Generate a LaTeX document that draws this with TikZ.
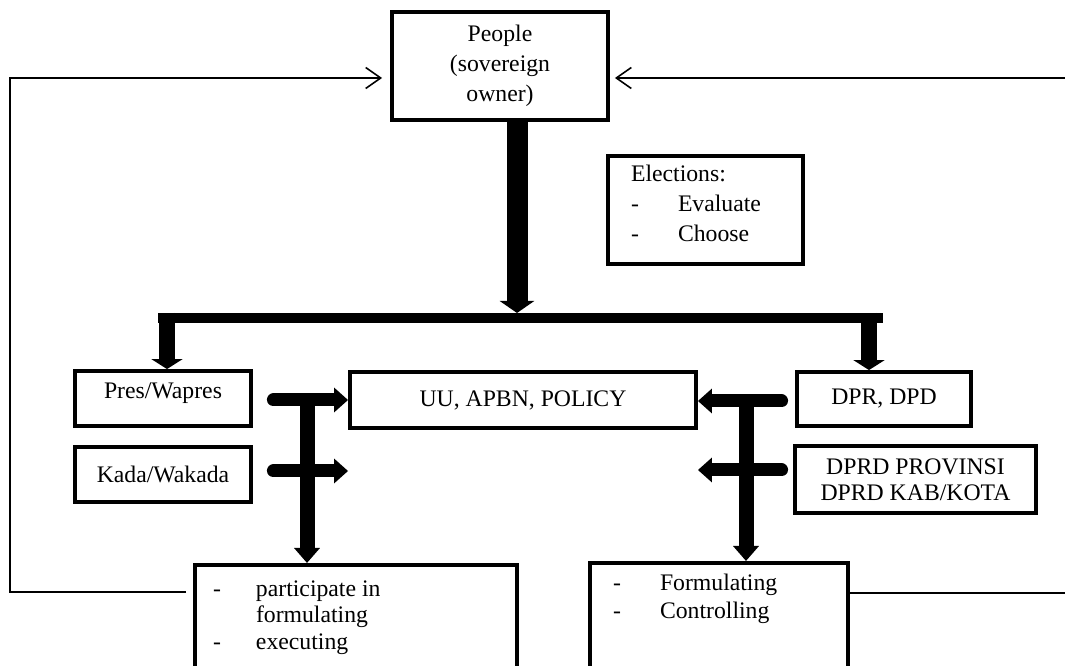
\documentclass[tikz,border=0pt]{standalone}
\usepackage{fontspec}
\setmainfont{Liberation Serif}
\usetikzlibrary{calc}
\usetikzlibrary{arrows.meta}
\tikzstyle{boxnode} = [draw, line width=2.2pt, inner sep=0pt, align=center, font=\fontsize{13.5}{17}\selectfont]
\tikzstyle{listnode} = [boxnode, inner xsep=0.46cm, inner ysep=0.14cm]
\tikzstyle{fatarrow} = [line width=0.26cm, line cap=round, -{Triangle[length=0.28cm, width=0.48cm]}]
\tikzstyle{droparrow} = [fatarrow, line cap=butt, line width=0.32cm, -{Triangle[length=0.2cm, width=0.62cm]}]
\tikzstyle{splitarrow} = [fatarrow, line cap=butt, line width=0.3cm, -{Triangle[length=0.3cm, width=0.5cm]}]
\tikzstyle{feedback} = [line width=0.9pt, -{Straight Barb[length=0.3cm, width=0.42cm]}]
\tikzstyle{feedbackline} = [line width=0.9pt]
\newcommand{\dashitem}[2][0.94cm]{\makebox[#1][l]{-}#2}

\begin{document}
\begin{tikzpicture}
\useasboundingbox (0,0) rectangle (21.3,-13.32);
\node[boxnode, minimum width=4.32cm, minimum height=2.16cm] (people) at (10.0,-1.32) {People\\(sovereign\\owner)};
\node[listnode] (elections) at ($(people)+(4.11,-2.88)$) {\parbox[c][1.88cm][t]{2.98cm}{\vspace*{0.04cm}Elections:\\\dashitem{Evaluate}\\\dashitem{Choose}}};
\node[boxnode, inner ysep=0.16cm] (pres_box) at ($(people)+(-6.74,-6.65)$) {\parbox[c][0.78cm][t]{3.52cm}{\vspace*{0.08cm}\centering Pres/Wapres}};
\node[boxnode, minimum width=3.52cm, minimum height=1.10cm] (kada_box) at ($(pres_box)+(0,-1.52)$) {Kada/Wakada};
\node[boxnode, minimum width=6.92cm, minimum height=1.12cm] (policy_box) at ($(people)+(0.46,-6.68)$) {UU, APBN, POLICY};
\node[boxnode, minimum width=3.48cm, minimum height=1.08cm] (dpr_box) at ($(people)+(7.68,-6.66)$) {DPR, DPD};
\node[boxnode, minimum width=4.82cm, minimum height=1.34cm, font=\fontsize{13.5}{15}\selectfont] (dprd_box) at ($(dpr_box)+(0.63,-1.61)$) {DPRD PROVINSI\\DPRD KAB/KOTA};
\node[listnode, anchor=north, inner xsep=0.36cm, inner ysep=0.16cm, font=\fontsize{13.5}{15}\selectfont] (exec_box) at ($(people)+(-2.88,-9.94)$) {\parbox[c][1.87cm][t]{5.72cm}{\vspace*{0.16cm}\dashitem[0.86cm]{participate in}\\\hspace*{0.86cm}formulating\\\dashitem[0.86cm]{executing}}};
\node[listnode, anchor=north, inner ysep=0.16cm, font=\fontsize{13.5}{16}\selectfont] (legis_box) at ($(people)+(4.38,-9.90)$) {\parbox[c][1.9cm][t]{4.24cm}{\vspace*{0.06cm}\dashitem{Formulating}\\\dashitem{Controlling}}};

\coordinate (hub) at (10.34,-6.26);
\coordinate (bar_left) at (3.16,-6.36);
\coordinate (bar_right) at (17.66,-6.36);
\coordinate (drop_left) at (3.34,-6.26);
\coordinate (drop_right) at (17.38,-6.26);
\coordinate (pres_arrow) at ($(pres_box.east)+(0.41,-0.03)$);
\coordinate (kada_arrow) at ($(kada_box.east)+(0.41,0.07)$);
\coordinate (dpr_arrow) at ($(dpr_box.west)+(-0.27,-0.04)$);
\coordinate (dprd_arrow) at ($(dprd_box.west)+(-0.23,0.19)$);
\coordinate (exec_split) at (6.14,-8.0);
\coordinate (legis_split) at (14.92,-8.02);
\coordinate (loop_left) at (0.2,-11.84);
\coordinate (loop_right) at (21.3,-11.86);
\coordinate (loop_top) at (21.3,-1.56);

\draw[fatarrow, line cap=butt, line width=0.42cm, -{Triangle[length=0.24cm, width=0.68cm]}] (people.south -| hub) -- (hub);
\draw[line width=0.2cm] (bar_left) -- (bar_right);
\draw[droparrow] (drop_left) -- (drop_left |- pres_box.north);
\draw[droparrow] (drop_right) -- (drop_right |- dpr_box.north);

\draw[fatarrow] (pres_arrow) -- (pres_arrow -| policy_box.west);
\draw[fatarrow] (kada_arrow) -- (kada_arrow -| policy_box.west);
\draw[fatarrow] (dpr_arrow) -- (dpr_arrow -| policy_box.east);
\draw[fatarrow] (dprd_arrow) -- (dprd_arrow -| policy_box.east);
\draw[splitarrow] (exec_split) -- (exec_split |- exec_box.north);
\draw[splitarrow] (legis_split) -- (legis_split |- legis_box.north);

\draw[feedback, shorten <=0.14cm] (exec_box.west |- loop_left) -- (loop_left) |- ([shift={(-0.16,-0.24)}]people.west);
\draw[feedbackline] (legis_box.east |- loop_right) -- (loop_right);
\draw[feedback] (loop_top) -- ([shift={(0.1,-0.24)}]people.east);
\end{tikzpicture}
\end{document}
